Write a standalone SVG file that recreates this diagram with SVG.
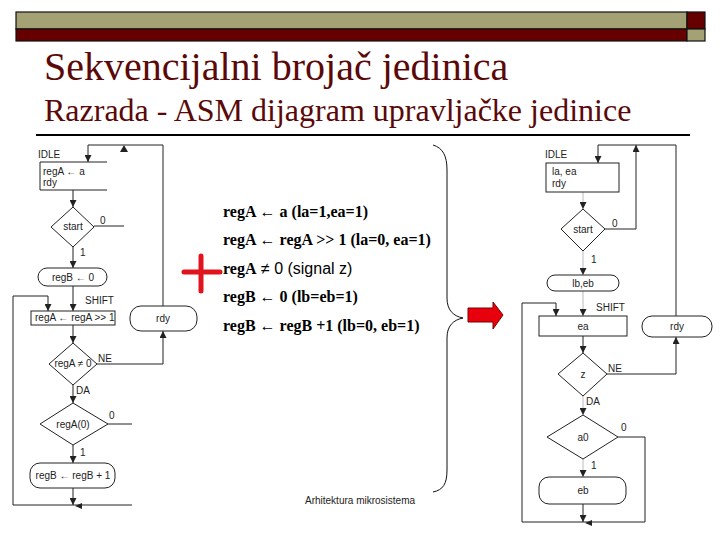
<svg xmlns="http://www.w3.org/2000/svg" width="720" height="540" viewBox="0 0 720 540">
<style>
.t{font-family:"Liberation Sans",Arial,sans-serif;font-size:10px;fill:#222}
.tc{font-family:"Liberation Sans",Arial,sans-serif;font-size:10px;fill:#222;text-anchor:middle}
.b{font-family:"Liberation Serif","Times New Roman",serif;font-size:16px;font-weight:bold;fill:#000}
.ln{fill:none;stroke:#222;stroke-width:1}
.lf{fill:none;stroke:#aaa;stroke-width:0.8}
.bx{fill:#fff;stroke:#222;stroke-width:1}
.ttl{font-family:"Liberation Serif","Times New Roman",serif;fill:#5a0808}
</style>
<defs>
<marker id="ah" viewBox="0 0 8 8" refX="8" refY="4" markerWidth="7" markerHeight="7" markerUnits="userSpaceOnUse" orient="auto"><path d="M0,0 L8,4 L0,8 z" fill="#222"/></marker>
</defs>
<rect width="720" height="540" fill="#fff"/>
<g id="header">
<rect x="16" y="12" width="671" height="17" fill="#a4a174" stroke="#111" stroke-width="1.2"/>
<rect x="687" y="12" width="18" height="17" fill="#660000" stroke="#111" stroke-width="1.2"/>
<rect x="16" y="29" width="671" height="12" fill="#660000" stroke="#111" stroke-width="1.2"/>
<rect x="687" y="29" width="18" height="12" fill="#a4a174" stroke="#111" stroke-width="1.2"/>
<text class="ttl" x="44" y="80" font-size="40">Sekvencijalni brojač jedinica</text>
<text class="ttl" x="44" y="121" font-size="32">Razrada - ASM dijagram upravljačke jedinice</text>
<line x1="36" y1="135" x2="690" y2="135" stroke="#000" stroke-width="2"/>
</g>
<g id="connectors">
<path class="ln" d="M163,306 V145 H88 V162" marker-end="url(#ah)"/>
<polygon points="120,152 128,152 124,145" fill="#222"/>
<path class="ln" d="M73,190 V207" marker-end="url(#ah)"/>
<path class="ln" d="M94,226 H124"/>
<path class="ln" d="M73,247 V268" marker-end="url(#ah)"/>
<path class="ln" d="M73,286 V311" marker-end="url(#ah)"/>
<path class="ln" d="M13,505 V296 H48 V311" marker-end="url(#ah)"/>
<path class="ln" d="M73,325 V343" marker-end="url(#ah)"/>
<path class="ln" d="M97,364 H163 V331" marker-end="url(#ah)"/>
<path class="ln" d="M73,385 V403" marker-end="url(#ah)"/>
<path class="ln" d="M108,424 H132"/>
<path class="ln" d="M73,445 V463" marker-end="url(#ah)"/>
<path class="ln" d="M13,505 H132"/>
<path class="ln" d="M73,488 V505" marker-end="url(#ah)"/>
<polygon points="75,506 82,503 82,509" fill="#222"/>
<path class="ln" d="M676,316 V145 H598 V163" marker-end="url(#ah)"/>
<path class="ln" d="M605,229 H636 V145" marker-end="url(#ah)"/>
<path class="lf" d="M583,192 V209" marker-end="url(#ah)"/>
<path class="lf" d="M583,251 V275" marker-end="url(#ah)"/>
<path class="lf" d="M583,291 V316" marker-end="url(#ah)"/>
<path class="ln" d="M522,522 V303 H556 V316" marker-end="url(#ah)"/>
<path class="ln" d="M583,336 V353" marker-end="url(#ah)"/>
<path class="ln" d="M607,374 H676 V337" marker-end="url(#ah)"/>
<path class="lf" d="M583,396 V415" marker-end="url(#ah)"/>
<path class="ln" d="M618,437 H645 V522 H522"/>
<path class="lf" d="M583,459 V477" marker-end="url(#ah)"/>
<path class="ln" d="M583,504 V522" marker-end="url(#ah)"/>
<polygon points="585,523 592,520 592,526" fill="#222"/>
</g>
<g id="L_idle">
<text class="t" x="38" y="158">IDLE</text>
<path class="ln" d="M107,162 H40 V190 H107"/>
<text class="t" x="43" y="175">regA ← a</text>
<text class="t" x="43" y="186">rdy</text>
</g>
<g id="L_start">
<polygon class="bx" points="73,207 94,227 73,247 51,227"/>
<text class="tc" x="73" y="230">start</text>
<text class="t" x="100" y="224">0</text>
<text class="t" x="80" y="256" fill="#bbb" font-size="7">1</text>
</g>
<g id="L_regB0">
<rect class="bx" x="38" y="268" width="69" height="18" rx="9"/>
<text class="tc" x="73" y="281">regB ← 0</text>
</g>
<g id="L_shift">
<text class="t" x="85" y="304">SHIFT</text>
<rect class="bx" x="31" y="311" width="84" height="14"/>
<text class="t" x="35" y="321">regA ← regA &gt;&gt; 1</text>
</g>
<g id="L_rdy">
<rect class="bx" x="130" y="306" width="67" height="25" rx="11"/>
<text class="tc" x="163" y="322">rdy</text>
</g>
<g id="L_nz">
<polygon class="bx" points="73,343 97,364 73,385 49,364"/>
<text class="tc" x="73" y="367">regA ≠ 0</text>
<text class="t" x="98" y="362">NE</text>
<text class="t" x="76" y="394">DA</text>
</g>
<g id="L_a0">
<polygon class="bx" points="73,403 108,424 73,445 40,424"/>
<text class="tc" x="73" y="428">regA(0)</text>
<text class="t" x="109" y="419">0</text>
<text class="t" x="80" y="456">1</text>
</g>
<g id="L_inc">
<rect class="bx" x="30" y="463" width="85" height="25" rx="10"/>
<text class="tc" x="73" y="479">regB ← regB + 1</text>
</g>
<g id="plus">
<path d="M184,272 H220 M201,256 V291" stroke="#e0141c" stroke-width="5" stroke-linecap="round" fill="none"/>
</g>
<g id="list">
<text class="b" x="223" y="217">regA ← a (la=1,ea=1)</text>
<text class="b" x="223" y="245">regA ← regA &gt;&gt; 1 (la=0, ea=1)</text>
<text class="b" x="223" y="274">regA<tspan font-family="Liberation Sans, Arial, sans-serif" font-weight="normal"> ≠ 0 (signal z)</tspan></text>
<text class="b" x="223" y="302">regB ← 0 (lb=eb=1)</text>
<text class="b" x="223" y="331">regB ← regB +1 (lb=0, eb=1)</text>
</g>
<g id="brace">
<path d="M433,145 C443,148 447,156 447,170 V298 C447,310 453,316 463,318 C453,320 447,326 447,338 V470 C447,484 443,490 433,492" fill="none" stroke="#111" stroke-width="1"/>
</g>
<g id="redarrow">
<polygon points="468,308 493,308 493,302 503,315 493,329 493,322 468,322" fill="#e8000c" stroke="#7a0000" stroke-width="1"/>
</g>
<g id="R_idle">
<text class="t" x="545" y="158">IDLE</text>
<rect class="bx" x="546" y="163" width="73" height="29"/>
<text class="t" x="552" y="175">la, ea</text>
<text class="t" x="552" y="187">rdy</text>
</g>
<g id="R_start">
<polygon class="bx" points="583,209 605,229 583,251 561,229"/>
<text class="tc" x="583" y="233" font-size="11">start</text>
<text class="t" x="612" y="227">0</text>
<text class="t" x="591" y="263">1</text>
</g>
<g id="R_lbeb">
<rect class="bx" x="547" y="275" width="72" height="16" rx="8"/>
<text class="tc" x="583" y="287">lb,eb</text>
</g>
<g id="R_shift">
<text class="t" x="596" y="311">SHIFT</text>
<rect class="bx" x="539" y="316" width="88" height="20"/>
<text class="tc" x="583" y="330">ea</text>
</g>
<g id="R_rdy">
<rect class="bx" x="642" y="316" width="70" height="21" rx="10"/>
<text class="tc" x="677" y="330">rdy</text>
</g>
<g id="R_z">
<polygon class="bx" points="583,353 607,374 583,396 558,374"/>
<text class="tc" x="583" y="378" font-size="8">z</text>
<text class="t" x="608" y="372">NE</text>
<text class="t" x="586" y="405">DA</text>
</g>
<g id="R_a0">
<polygon class="bx" points="583,415 618,437 583,459 547,437"/>
<text class="tc" x="583" y="441">a0</text>
<text class="t" x="621" y="431">0</text>
<text class="t" x="591" y="469">1</text>
</g>
<g id="R_eb">
<rect class="bx" x="539" y="477" width="87" height="27" rx="10"/>
<text class="tc" x="583" y="494">eb</text>
</g>
<g id="footer">
<text class="t" x="305" y="504">Arhitektura mikrosistema</text>
</g>
</svg>
